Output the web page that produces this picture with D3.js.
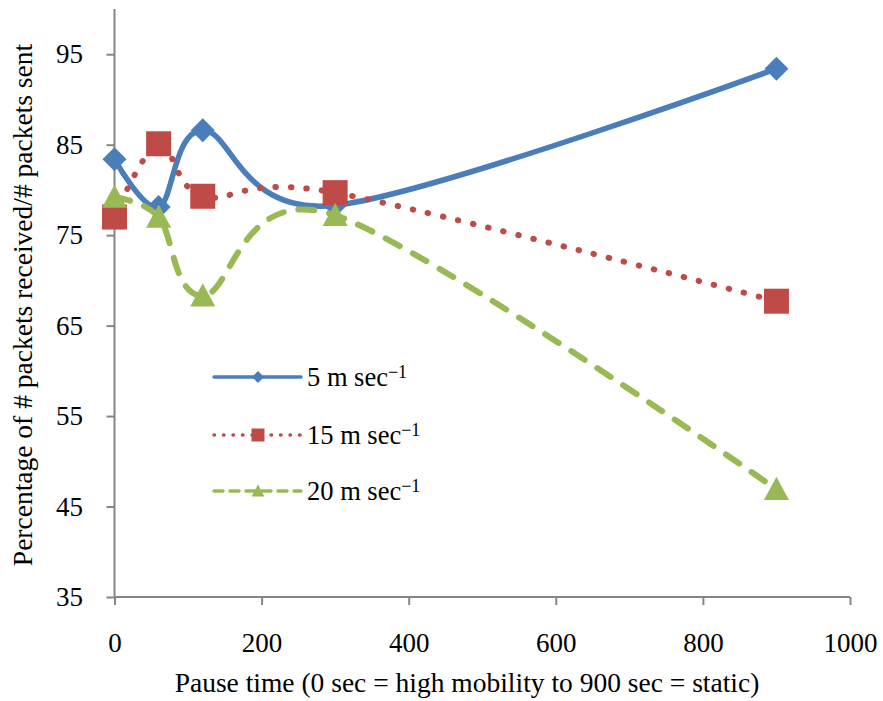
<!DOCTYPE html>
<html>
<head>
<meta charset="utf-8">
<script src="https://cdn.jsdelivr.net/npm/d3@7"></script>
<style>
  body { margin: 0; background: #fff; }
  svg text { font-family: 'Liberation Serif', 'Times New Roman', serif; }
</style>
</head>
<body>
<div id="chart"></div>
<script>
/* DATA */
const pauseTimes = [0, 60, 120, 300, 900];
const speed5 = [83.4, 78.1, 86.6, 78.3, 93.4];
const speed15 = [77.0, 85.1, 79.3, 79.7, 67.7];
const speed20 = [79.2, 77.0, 68.3, 77.2, 46.9];
const seriesNames = ["5 m sec", "15 m sec", "20 m sec"];
const xTicks = [0, 200, 400, 600, 800, 1000];
const yTicks = [35, 45, 55, 65, 75, 85, 95];

/* CONSTANTS */
const width = 883,
  height = 701,
  margin = { top: 9, bottom: 104, left: 114.5, right: 33 },
  serif = "'Liberation Serif', 'Times New Roman', serif",
  fontSize = 27;

const series = [
  { name: seriesNames[0], values: speed5, color: "#4A7EBB", marker: "diamond", dash: null },
  { name: seriesNames[1], values: speed15, color: "#BE4B48", marker: "square", dash: "0.5 15" },
  { name: seriesNames[2], values: speed20, color: "#98B954", marker: "triangle", dash: "16 15" }
];

// excel-like marker shapes (diamond = square turned 45 degrees)
function markerPath(type, s) {
  const h = s / 2;
  if (type === "diamond") return `M0,${-h}L${h},0L0,${h}L${-h},0Z`;
  if (type === "square") return `M${-h},${-h}H${h}V${h}H${-h}Z`;
  return `M0,${-h}L${h},${h * 0.85}L${-h},${h * 0.85}Z`;
}

const svg = d3.select("#chart")
  .append("svg")
  .attr("width", width)
  .attr("height", height);

// scales
const xScale = d3.scaleLinear()
  .domain([0, 1000])
  .range([margin.left, width - margin.right]);

const yScale = d3.scaleLinear()
  .domain([35, 100])
  .range([height - margin.bottom, margin.top]);

// axes
const xAxis = d3.axisBottom(xScale).tickValues(xTicks).tickSize(8).tickPadding(28).tickFormat(d3.format("d"));
const yAxis = d3.axisLeft(yScale).tickValues(yTicks).tickSize(8).tickPadding(23.5);

const xAxisGroup = svg.append("g")
  .attr("transform", `translate(0, ${height - margin.bottom})`)
  .call(xAxis);

const yAxisGroup = svg.append("g")
  .attr("transform", `translate(${margin.left}, 0)`)
  .call(yAxis);

[xAxisGroup, yAxisGroup].forEach(g => {
  g.attr("font-family", serif).attr("font-size", fontSize);
  g.select(".domain").attr("stroke", "#868686").attr("stroke-width", 2);
  g.selectAll(".tick line").attr("stroke", "#868686").attr("stroke-width", 2);
  g.selectAll(".tick text").attr("fill", "#000");
});
// the y axis line runs to the top of the plot
yAxisGroup.select(".domain").attr("d", `M0,${yScale(35)}V${margin.top}`);
xAxisGroup.select(".domain").attr("d", `M${margin.left},0H${xScale(1000)}`);

// axis titles
svg.append("text")
  .attr("x", 467)
  .attr("y", 692)
  .attr("text-anchor", "middle")
  .attr("font-family", serif)
  .attr("font-size", 27.5)
  .text("Pause time (0 sec = high mobility to 900 sec = static)");

svg.append("text")
  .attr("transform", `translate(32, ${305}) rotate(-90)`)
  .attr("text-anchor", "middle")
  .attr("font-family", serif)
  .attr("font-size", 27.5)
  .text("Percentage of # packets received/# packets sent");

// line generator
const lineGen = d3.line()
  .x(d => xScale(d.x))
  .y(d => yScale(d.y))
  .curve(d3.curveCardinal.tension(0));

const markerSizes = [24, 25, 25];

series.forEach((s, i) => {
  const pts = pauseTimes.map((x, j) => ({ x: x, y: s.values[j] }));
  const g = svg.append("g");
  g.append("path")
    .datum(pts)
    .attr("fill", "none")
    .attr("stroke", s.color)
    .attr("stroke-width", i === 0 ? 5.5 : 6)
    .attr("stroke-linecap", "round")
    .attr("stroke-dasharray", s.dash)
    .attr("d", lineGen);

  g.selectAll(".marker")
    .data(pts)
    .join("path")
    .attr("class", "marker")
    .attr("transform", d => `translate(${xScale(d.x)}, ${yScale(d.y)})`)
    .attr("fill", s.color)
    .attr("d", markerPath(s.marker, markerSizes[i]));
});

// legend
const legendRows = [377, 435, 491];
const legendDash = [null, "0.5 9", "9 7"];
const legendSizes = [12, 13, 13];
series.forEach((s, i) => {
  const y = legendRows[i];
  svg.append("line")
    .attr("x1", 214).attr("x2", 301)
    .attr("y1", y).attr("y2", y)
    .attr("stroke", s.color)
    .attr("stroke-width", 3.5)
    .attr("stroke-linecap", "round")
    .attr("stroke-dasharray", legendDash[i]);
  svg.append("path")
    .attr("transform", `translate(258, ${y})`)
    .attr("fill", s.color)
    .attr("d", markerPath(s.marker, legendSizes[i]));
  const t = svg.append("text")
    .attr("x", 307)
    .attr("y", y + 9)
    .attr("font-family", serif)
    .attr("font-size", 26.5)
    .text(s.name);
  t.append("tspan")
    .attr("dy", -8.5)
    .attr("font-size", 18)
    .text("\u22121");
});
</script>
</body>
</html>
